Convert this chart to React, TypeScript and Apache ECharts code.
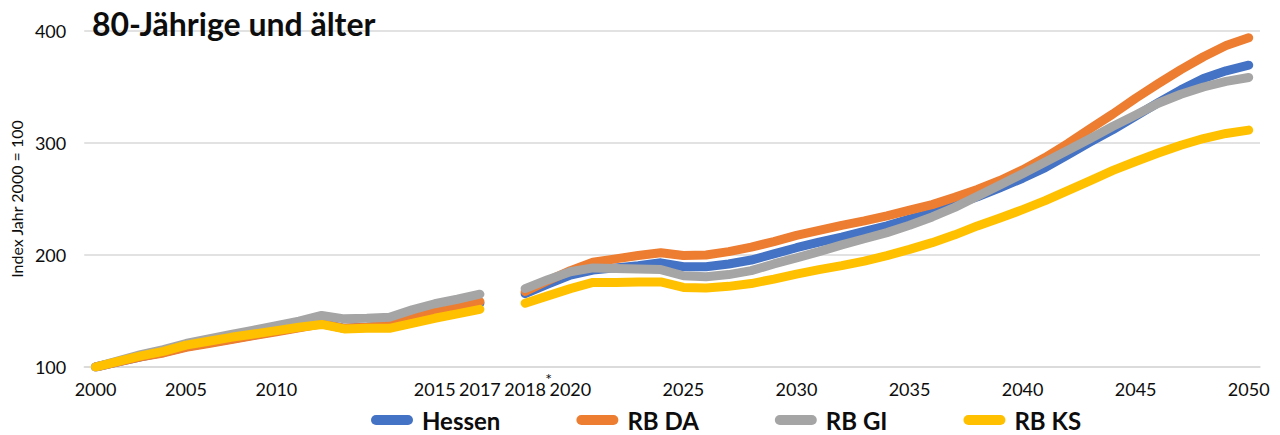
import React, { useEffect, useRef } from "react";
import * as echarts from "echarts";

const years: string[] = [
  "2000", "2001", "2002", "2003", "2004", "2005", "2006", "2007", "2008", "2009",
  "2010", "2011", "2012", "2013", "2014", "2015", "2016", "2017", "",
  "2018", "2019", "2020", "2021", "2022", "2023", "2024", "2025", "2026", "2027",
  "2028", "2029", "2030", "2031", "2032", "2033", "2034", "2035", "2036", "2037",
  "2038", "2039", "2040", "2041", "2042", "2043", "2044", "2045", "2046", "2047",
  "2048", "2049", "2050",
];

// Tick labels as they appear under the axis (same index as the categories)
const xTickLabels: string[] = [
  "2000", "", "", "", "2005", "", "", "", "2010", "",
  "", "", "", "", "", "2015", "", "2017", "",
  "2018", "", "2020", "", "", "", "", "2025", "", "",
  "", "", "2030", "", "", "", "", "2035", "", "",
  "", "", "2040", "", "", "", "", "2045", "", "",
  "", "", "2050",
];
const starIndex = 19;

const hessen: (number | null)[] = [
  100, 104.5, 109, 113, 118, 121.5, 125, 128.5, 132, 135.5, 139, 134.5, 135.5, 137, 142.5, 149, 153, 157,
  null,
  165.5, 174, 182, 186.5, 188.5, 190.5, 193, 189.5, 189.5, 192, 195.5, 201, 206.5, 211.5, 216, 221, 226,
  232, 237.5, 245, 252, 260, 268.5, 278, 289.5, 301, 312, 324, 336, 347.5, 357.5, 364.5, 369.5,
];
const rbDA: (number | null)[] = [
  100, 104.5, 109, 112.5, 117.5, 121, 124.5, 128, 131.5, 135, 138.5, 134.5, 135.5, 137.5, 143.5, 150, 154, 158.5,
  null,
  167.5, 177, 186, 193.5, 196.5, 199.5, 202, 199.5, 200, 203, 207, 212, 217.5, 222, 226.5, 230.5, 235,
  240, 245, 251.5, 258.5, 266.5, 276, 287, 299.5, 313, 326, 340, 353, 365.5, 377, 387, 394,
];
const rbGI: (number | null)[] = [
  100, 105.5, 111, 115.5, 121, 125, 129, 133, 137, 141, 146, 143, 143.5, 144.5, 151, 156.5, 160.5, 165,
  null,
  170, 178, 185, 188.5, 188, 187.5, 187, 181.5, 180.5, 182.5, 186, 192, 197.5, 203, 209, 214.5, 220,
  226.5, 234, 242.5, 252.5, 262.5, 272.5, 283, 293.5, 304, 315, 325, 335.5, 343.5, 350, 355, 358.5,
];
const rbKS: (number | null)[] = [
  100, 105, 110, 114, 119.5, 123, 126.5, 129.5, 132.5, 135.5, 138, 134, 134.5, 134.5, 139, 143.5, 147.5, 151.5,
  null,
  157, 163.5, 170, 175.5, 175.5, 176, 176, 171, 170.5, 172, 174.5, 178.5, 183, 187, 190.5, 194.5, 199.5,
  205, 211, 218, 226, 233, 240.5, 248.5, 257.5, 266.5, 275.5, 283.5, 291, 298, 304, 308.5, 311.5,
];

const seriesNames = ["Hessen", "RB DA", "RB GI", "RB KS"];
const seriesData = [hessen, rbDA, rbGI, rbKS];
const colors = ["#4472C4", "#ED7D31", "#A5A5A5", "#FFC000"];

const FONT = "Lato, 'Noto Sans', sans-serif";
const TEXT = "#0d0d0d";

export default function App() {
  const ref = useRef<HTMLDivElement>(null);
  useEffect(() => {
    document.body.style.margin = "0";
    if (!ref.current) return;
    const chart = echarts.init(ref.current, null, { renderer: "svg" });
    chart.setOption({
      animation: false,
      backgroundColor: "#ffffff",
      title: {
        text: "80-Jährige und älter",
        left: 87,
        top: 2,
        textStyle: { fontFamily: FONT, fontSize: 32, fontWeight: "bold", color: TEXT },
      },
      legend: {
        data: seriesNames,
        left: 366,
        top: 403,
        itemWidth: 42,
        itemHeight: 11,
        itemGap: 76,
        icon: "path://M5,0 H37 A5,5 0 0 1 37,10 H5 A5,5 0 0 1 5,0 Z",
        textStyle: {
          fontFamily: FONT,
          fontSize: 24,
          fontWeight: "bold",
          color: TEXT,
          padding: [0, 0, 0, 4],
        },
      },
      grid: { left: 82, right: 20, top: 31, bottom: 68, containLabel: false },
      xAxis: [
        {
          type: "category",
          data: years,
          boundaryGap: true,
          axisLine: { show: true, lineStyle: { color: "#d9d9d9", width: 1.5 } },
          axisTick: { show: false },
          axisLabel: {
            interval: 0,
            margin: 13,
            fontFamily: FONT,
            fontSize: 18,
            color: TEXT,
            formatter: (_v: string, i: number) => xTickLabels[i] || "",
          },
        },
        {
          type: "category",
          data: years,
          position: "bottom",
          boundaryGap: true,
          axisLine: { show: false },
          axisTick: { show: false },
          splitLine: { show: false },
          axisLabel: {
            interval: 0,
            margin: 9,
            align: "left",
            padding: [0, 0, 0, 20],
            fontFamily: FONT,
            fontSize: 16,
            lineHeight: 4,
            color: TEXT,
            formatter: (_v: string, i: number) => (i === starIndex ? "*" : ""),
          },
        },
      ],
      yAxis: {
        type: "value",
        min: 100,
        max: 400,
        interval: 100,
        name: "Index Jahr 2000 = 100",
        nameLocation: "middle",
        nameGap: 56,
        nameTextStyle: { fontFamily: FONT, fontSize: 16, color: TEXT },
        axisLine: { show: false },
        axisTick: { show: false },
        axisLabel: { margin: 18, fontFamily: FONT, fontSize: 18, color: TEXT },
        splitLine: { lineStyle: { color: "#d9d9d9", width: 1.5 } },
      },
      series: seriesNames.map((name, k) => ({
        name,
        type: "line",
        xAxisIndex: 0,
        data: seriesData[k],
        connectNulls: false,
        symbol: "none",
        smooth: false,
        color: colors[k],
        lineStyle: { width: 9, color: colors[k], cap: "round", join: "round" },
        z: 2 + k,
      })),
    });
    return () => chart.dispose();
  }, []);
  return <div ref={ref} style={{ width: 1280, height: 435 }} />;
}
